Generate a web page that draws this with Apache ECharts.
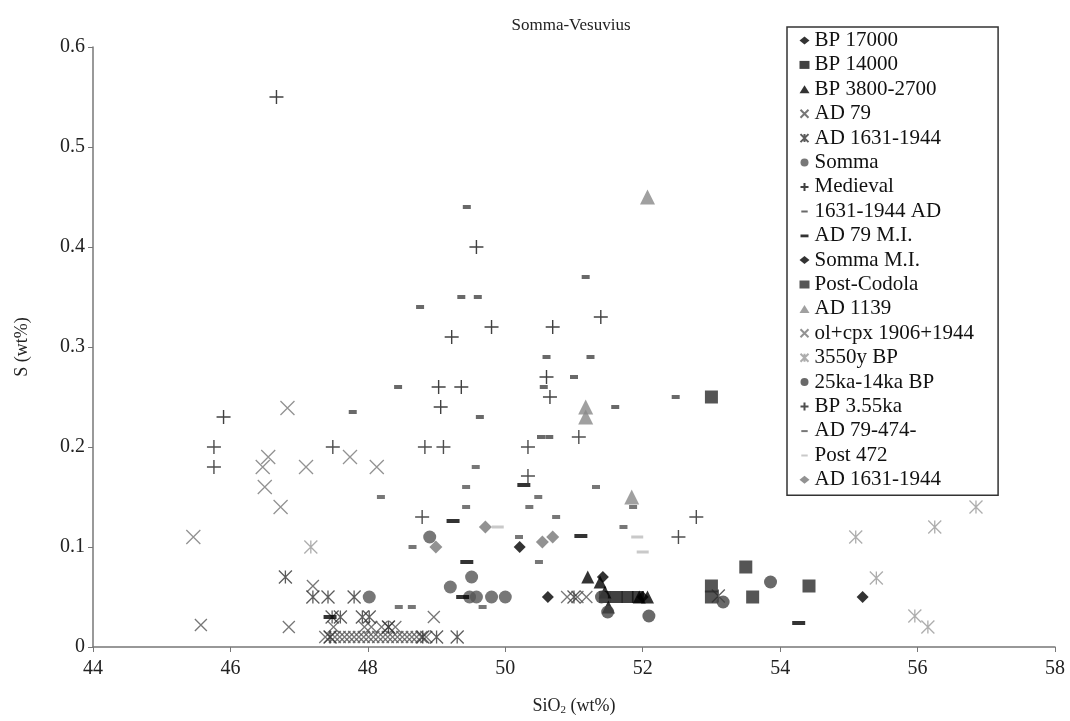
<!DOCTYPE html>
<html>
<head>
<meta charset="utf-8">
<script src="https://cdn.jsdelivr.net/npm/echarts@6/dist/echarts.min.js"></script>
<style>
  html, body { margin: 0; padding: 0; background: #fff; }
  #main { width: 1070px; height: 721px; }
</style>
</head>
<body>
<div id="main"></div>
<script>
// S vs SiO2, Somma-Vesuvius
var bp17000 = [[50.21,0.10],[50.62,0.05],[55.2,0.05]];
var bp14000 = [[51.45,0.05],[51.62,0.05],[51.78,0.05],[51.93,0.05]];
var bp3800 = [[51.2,0.07],[51.38,0.065],[51.45,0.055],[51.5,0.04],[51.95,0.05],[52.07,0.05]];
var ad79 = [[47.38,0.01],[47.45,0.01],[47.52,0.01],[47.59,0.01],[47.66,0.01],[47.73,0.01],[47.8,0.01],
  [47.87,0.01],[47.94,0.01],[48.01,0.01],[48.08,0.01],[48.15,0.01],[48.22,0.01],[48.29,0.01],[48.36,0.01],
  [48.43,0.01],[48.5,0.01],[48.57,0.01],[48.64,0.01],[48.71,0.01],[48.78,0.01],[48.85,0.01],
  [47.5,0.02],[47.95,0.02],[48.05,0.02],[48.2,0.02],[48.3,0.02],[48.4,0.02],
  [48.96,0.03],[47.2,0.061],[46.85,0.02],[45.57,0.022],[50.9,0.05],[51.05,0.05],[51.18,0.05]];
var ad1631a = [[46.8,0.07],[47.2,0.05],[47.42,0.05],[47.8,0.05],[47.48,0.03],[47.6,0.03],[47.92,0.03],
  [48.02,0.03],[49.0,0.01],[49.3,0.01],[48.8,0.01],[47.45,0.01],[48.3,0.02],[53.1,0.051],[51.0,0.05]];
var somma = [[48.02,0.05],[48.9,0.11],[49.51,0.07],[49.2,0.06],[49.48,0.05],[49.58,0.05],[49.8,0.05],[50.0,0.05]];
var medieval = [[46.67,0.55],[49.58,0.40],[51.39,0.33],[49.8,0.32],[50.69,0.32],[49.22,0.31],[50.6,0.27],
  [50.65,0.25],[49.03,0.26],[49.36,0.26],[49.06,0.24],[45.9,0.23]];
var ad1631b = [[49.44,0.44],[51.17,0.37],[49.36,0.35],[49.6,0.35],[48.76,0.34],[50.6,0.29],[51.24,0.29],
  [51.0,0.27],[48.44,0.26],[50.56,0.26],[52.48,0.25],[51.6,0.24],[47.78,0.235],[49.63,0.23],[50.52,0.21],[50.64,0.21]];
var ad79mi = [[50.27,0.162],[49.24,0.126],[49.44,0.085],[51.1,0.111],[49.38,0.05],[54.27,0.024],[47.45,0.03]];
var sommaMi = [[51.42,0.07],[52.0,0.05]];
var postCodola = [[53.0,0.25],[53.0,0.061],[53.0,0.05],[53.5,0.08],[53.6,0.05],[54.42,0.061]];
var ad1139 = [[52.07,0.45],[51.17,0.24],[51.17,0.23],[51.84,0.15]];
var olcpx = [[46.83,0.239],[46.55,0.19],[46.47,0.18],[47.1,0.18],[46.5,0.16],[46.73,0.14],[47.74,0.19],[48.13,0.18],[45.46,0.11]];
var bp3550y = [[47.17,0.10],[55.1,0.11],[56.25,0.12],[56.85,0.14],[55.4,0.069],[55.96,0.031],[56.15,0.02]];
var ka25 = [[51.4,0.05],[51.49,0.035],[52.09,0.031],[53.17,0.045],[53.86,0.065]];
var bp355 = [[45.76,0.20],[45.76,0.18],[47.49,0.20],[48.83,0.20],[49.1,0.20],[50.33,0.20],[51.07,0.21],
  [50.33,0.171],[48.79,0.13],[52.52,0.11],[52.78,0.13]];
var ad79474 = [[48.19,0.15],[49.57,0.18],[49.43,0.16],[51.32,0.16],[50.48,0.15],[51.86,0.14],[49.43,0.14],
  [50.35,0.14],[50.74,0.13],[51.72,0.12],[50.2,0.11],[48.65,0.10],[50.49,0.085],[49.67,0.04],[48.45,0.04],[48.64,0.04]];
var post472 = [[49.89,0.12],[51.92,0.11],[52.0,0.095]];
var ad1631d = [[49.71,0.12],[50.69,0.11],[50.54,0.105],[48.99,0.10]];

var CROSS = 'path://M0,0L10,10M10,0L0,10';
var STAR = 'path://M0,0L10,10M10,0L0,10M5,0L5,10';
var PLUS = 'path://M5,0L5,10M0,5L10,5';
// legend-only icons (kept small inside a 10x10 box)
var DASH_ICON = 'path://M0,0M1,4h8v2.5h-8zM10,10';
var THICK_ICON = 'path://M0,0M0,3.5h10v3.5h-10zM10,10';

function filled(name, data, symbol, size, color) {
  return { name: name, type: 'scatter', data: data, symbol: symbol, symbolSize: size,
    itemStyle: { color: color } };
}
function stroked(name, data, symbol, size, color, w) {
  return { name: name, type: 'scatter', data: data, symbol: symbol, symbolSize: size,
    itemStyle: { color: 'none', borderColor: color, borderWidth: w } };
}

var serif = 'Liberation Serif';
var chart = echarts.init(document.getElementById('main'), null, { renderer: 'canvas' });

var option = {
  animation: false,
  backgroundColor: '#fff',
  title: {
    text: 'Somma-Vesuvius', left: 566, top: 12, textAlign: 'center',
    textStyle: { fontFamily: serif, fontWeight: 'normal', fontSize: 17, color: '#222' }
  },
  grid: { left: 93, right: 15, top: 47, bottom: 73 },
  legend: {
    orient: 'vertical', left: 787, top: 27,
    padding: [3, 24, 5, 11], itemGap: 3.4, itemWidth: 10, itemHeight: 8,
    borderColor: '#333', borderWidth: 1.5,
    textStyle: { fontFamily: serif, fontSize: 21, lineHeight: 20, color: '#111' },
    data: [
      { name: 'BP 17000', icon: 'diamond' },
      { name: 'BP 14000', icon: 'rect' },
      { name: 'BP 3800-2700', icon: 'triangle' },
      { name: 'AD 79' },
      { name: 'AD 1631-1944' },
      { name: 'Somma', icon: 'circle' },
      { name: 'Medieval' },
      { name: '1631-1944 AD', icon: DASH_ICON },
      { name: 'AD 79 M.I.', icon: THICK_ICON },
      { name: 'Somma M.I.', icon: 'diamond' },
      { name: 'Post-Codola', icon: 'rect' },
      { name: 'AD 1139', icon: 'triangle' },
      { name: 'ol+cpx 1906+1944' },
      { name: '3550y BP' },
      { name: '25ka-14ka BP', icon: 'circle' },
      { name: 'BP 3.55ka' },
      { name: 'AD 79-474-', icon: DASH_ICON },
      { name: 'Post 472', icon: DASH_ICON },
      { name: 'AD 1631-1944 ', icon: 'diamond' }
    ]
  },
  xAxis: {
    type: 'value', min: 44, max: 58, interval: 2,
    name: 'SiO{sub|2} (wt%)', nameLocation: 'middle', nameGap: 50,
    nameTextStyle: { fontFamily: serif, fontSize: 18, color: '#222',
      rich: { sub: { fontSize: 11, fontFamily: serif, padding: [8, 0, 0, 0], color: '#222' } } },
    axisLine: { lineStyle: { color: '#777', width: 1.5 } },
    axisTick: { length: 5, lineStyle: { color: '#777' } },
    axisLabel: { fontFamily: serif, fontSize: 20, color: '#222', margin: 12 },
    splitLine: { show: false }
  },
  yAxis: {
    type: 'value', min: 0, max: 0.6, interval: 0.1,
    name: 'S (wt%)', nameLocation: 'middle', nameGap: 62, nameRotate: 90,
    nameTextStyle: { fontFamily: serif, fontSize: 18, color: '#222' },
    axisLine: { show: true, lineStyle: { color: '#777', width: 1.5 } },
    axisTick: { show: true, length: 5, lineStyle: { color: '#777' } },
    axisLabel: { fontFamily: serif, fontSize: 20, color: '#222', margin: 8 },
    splitLine: { show: false }
  },
  series: [
    filled('BP 17000', bp17000, 'diamond', 12, '#000'),
    filled('BP 14000', bp14000, 'rect', 12, '#111'),
    filled('BP 3800-2700', bp3800, 'triangle', 13, '#000'),
    stroked('AD 79', ad79, CROSS, 12, '#555', 1.3),
    stroked('AD 1631-1944', ad1631a, STAR, 13, '#333', 1.3),
    filled('Somma', somma, 'circle', 13, '#555'),
    stroked('Medieval', medieval, PLUS, 14, '#111', 1.4),
    filled('1631-1944 AD', ad1631b, 'rect', [8, 4], '#444'),
    filled('AD 79 M.I.', ad79mi, 'rect', [13, 4], '#000'),
    filled('Somma M.I.', sommaMi, 'diamond', 12, '#000'),
    filled('Post-Codola', postCodola, 'rect', 13, '#2a2a2a'),
    filled('AD 1139', ad1139, 'triangle', 15, '#888'),
    stroked('ol+cpx 1906+1944', olcpx, CROSS, 14, '#777', 1.3),
    stroked('3550y BP', bp3550y, STAR, 13, '#999', 1.3),
    filled('25ka-14ka BP', ka25, 'circle', 13, '#444'),
    stroked('BP 3.55ka', bp355, PLUS, 14, '#222', 1.4),
    filled('AD 79-474-', ad79474, 'rect', [8, 4], '#555'),
    filled('Post 472', post472, 'rect', [12, 3], '#bbb'),
    filled('AD 1631-1944 ', ad1631d, 'diamond', 13, '#777')
  ]
};
chart.setOption(option);
</script>
</body>
</html>
